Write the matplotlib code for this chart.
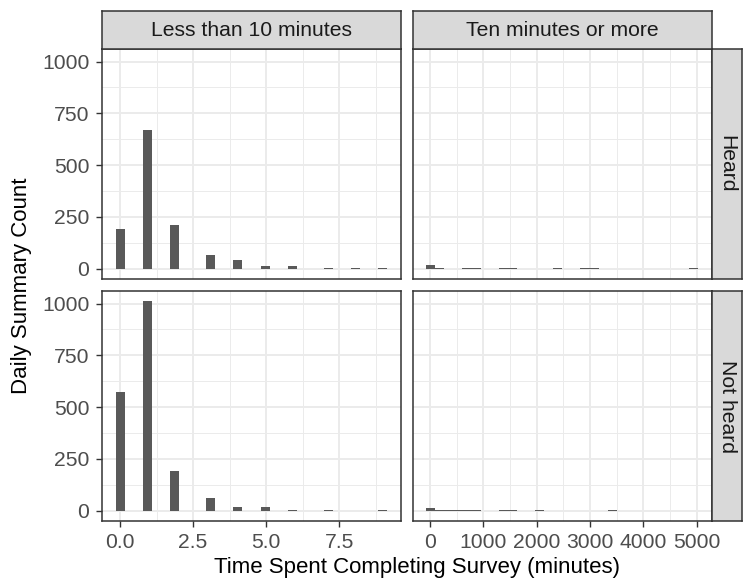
import matplotlib
matplotlib.use("Agg")
import matplotlib.pyplot as plt
import numpy as np

plt.rcParams['font.family'] = ['Liberation Sans', 'DejaVu Sans']

# ---------------- data ----------------
col_titles = ["Less than 10 minutes", "Ten minutes or more"]
row_titles = ["Heard", "Not heard"]

# short surveys: time in minutes and daily summary counts
short_minutes = [0, 1, 2, 3, 4, 5, 6, 7, 8, 9]
short_heard = [190, 670, 210, 65, 39, 11, 10, 3, 3, 2]
short_not_heard = [575, 1010, 191, 62, 18, 16, 4, 4, 0, 5]

# long surveys: time in minutes (approximate) and counts
long_minutes = [10, 180, 351, 521, 691, 862, 1372, 1543, 2054, 2394, 2905, 3075, 3416, 4950]
long_heard = [15, 2, 0, 0, 1, 1, 1, 1, 0, 1, 1, 1, 0, 1]
long_not_heard = [13, 3, 2, 2, 1, 1, 1, 2, 2, 0, 0, 0, 1, 0]

short_xticks = [0, 2.5, 5, 7.5]
short_xticklabels = ["0.0", "2.5", "5.0", "7.5"]
long_xticks = [0, 1000, 2000, 3000, 4000, 5000]
long_xticklabels = ["0", "1000", "2000", "3000", "4000", "5000"]
yticks = [0, 250, 500, 750, 1000]
yticklabels = ["0", "250", "500", "750", "1000"]

N_BINS = 30

# ---------------- layout ----------------
W, H = 743, 582
fig = plt.figure(figsize=(W / 100, H / 100), dpi=100)
fig.patch.set_facecolor("white")


def rect(x0, y0, x1, y1):
    return [x0 / W, 1 - y1 / H, (x1 - x0) / W, (y1 - y0) / H]


col_x = [(102, 401), (412.5, 712)]
row_y = [(49, 279), (291, 521)]
strip_top = (11, 49)
strip_right = (712, 742)

BORDER = "#333333"
GRID = "#EBEBEB"
BAR = "#595959"
STRIP = "#D9D9D9"
TICKLAB = "#4D4D4D"

ymax = max(max(short_heard), max(short_not_heard), max(long_heard), max(long_not_heard))
ylim = (-0.05 * ymax, 1.05 * ymax)

cols = [
    (short_minutes, [short_heard, short_not_heard], short_xticks, short_xticklabels),
    (long_minutes, [long_heard, long_not_heard], long_xticks, long_xticklabels),
]

for c, (mins, series, xt, xtl) in enumerate(cols):
    lo, hi = min(mins), max(mins)
    w = (hi - lo) / (N_BINS - 1)
    rng = (lo - w / 2, hi + w / 2)
    span = rng[1] - rng[0]
    xlim = (rng[0] - 0.05 * span, rng[1] + 0.05 * span)
    step = xt[1] - xt[0]
    minor_x = [t + step / 2 for t in [xt[0] - step] + list(xt)]
    minor_x = [m for m in minor_x if xlim[0] < m < xlim[1]]
    ystep = yticks[1] - yticks[0]
    minor_y = [t + ystep / 2 for t in [yticks[0] - ystep] + list(yticks)]
    minor_y = [m for m in minor_y if ylim[0] < m < ylim[1]]

    for r, counts in enumerate(series):
        x0, x1 = col_x[c]
        y0, y1 = row_y[r]
        ax = fig.add_axes(rect(x0, y0, x1, y1))
        ax.set_xlim(*xlim)
        ax.set_ylim(*ylim)
        for m in minor_x:
            ax.axvline(m, color=GRID, lw=0.7, zorder=0)
        for m in minor_y:
            ax.axhline(m, color=GRID, lw=0.7, zorder=0)
        for t in xt:
            ax.axvline(t, color=GRID, lw=1.4, zorder=0.5)
        for t in yticks:
            ax.axhline(t, color=GRID, lw=1.4, zorder=0.5)
        ax.hist(mins, bins=N_BINS, range=rng, weights=counts, color=BAR,
                edgecolor="none", zorder=2)
        for s in ax.spines.values():
            s.set_color(BORDER)
            s.set_linewidth(1.1)
            s.set_zorder(5)
        ax.set_xticks(xt)
        ax.set_yticks(yticks)
        ax.tick_params(length=4.3, width=1.0, color=BORDER, labelcolor=TICKLAB,
                       labelsize=15.2)
        ax.tick_params(axis="x", pad=4.2)
        ax.tick_params(axis="y", pad=4.8)
        if r == 1:
            ax.set_xticklabels(xtl)
        else:
            ax.tick_params(axis="x", length=0, labelbottom=False)
        if c == 0:
            ax.set_yticklabels(yticklabels)
        else:
            ax.tick_params(axis="y", length=0, labelleft=False)

        # right strips
        if c == 1:
            sax = fig.add_axes(rect(strip_right[0], y0, strip_right[1], y1))
            sax.set_facecolor(STRIP)
            sax.set_xticks([])
            sax.set_yticks([])
            for s in sax.spines.values():
                s.set_color(BORDER)
                s.set_linewidth(1.1)
            sax.text(0.5, 0.5, row_titles[r], rotation=-90, ha="center", va="center",
                     fontsize=15.2, color="#1A1A1A", transform=sax.transAxes)

    # top strips
    x0, x1 = col_x[c]
    sax = fig.add_axes(rect(x0, strip_top[0], x1, strip_top[1]))
    sax.set_facecolor(STRIP)
    sax.set_xticks([])
    sax.set_yticks([])
    for s in sax.spines.values():
        s.set_color(BORDER)
        s.set_linewidth(1.1)
    sax.text(0.5, 0.5, col_titles[c], ha="center", va="center",
             fontsize=15.2, color="#1A1A1A", transform=sax.transAxes)

fig.text(417 / W, 1 - 567 / H, "Time Spent Completing Survey (minutes)",
         ha="center", va="center", fontsize=16, color="black")
fig.text(22 / W, 1 - 286 / H, "Daily Summary Count", rotation=90,
         ha="center", va="center", fontsize=16, color="black")

fig.savefig("out.png", dpi=100, facecolor="white")
